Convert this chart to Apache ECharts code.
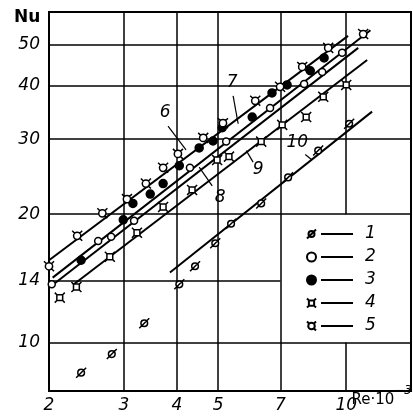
<!DOCTYPE html>
<html>
<head>
<meta charset="utf-8">
<script src="https://cdn.jsdelivr.net/npm/echarts@6/dist/echarts.min.js"></script>
<style>
  html, body { margin: 0; padding: 0; background: #fff; }
  #chart { width: 413px; height: 419px; }
</style>
</head>
<body>
<div id="chart"></div>
<script>
// 坐标轴范围和刻度
const xTicks = [2, 3, 4, 5, 7, 10]
const yTicks = [10, 14, 20, 30, 40, 50]
const xRange = [2, 14.2]
const yRange = [7.7, 59.6]
// 图例所在的格子，里面不画网格线
const legendCellX = [7, 14.2]
const legendCellY = [10, 20]

// 实验点 (Re·10^-3, Nu)
const s1 = [[2.38, 8.5], [2.81, 9.4], [3.35, 11.1], [4.05, 13.7], [4.41, 15.1], [4.92, 17.1],
  [5.36, 19.0], [6.31, 21.2], [7.30, 24.4], [8.59, 28.2], [10.16, 32.6]]
const s2 = [[2.03, 13.7], [2.61, 17.3], [2.80, 17.7], [3.17, 19.3], [4.29, 25.7], [5.22, 29.6],
  [6.62, 35.5], [7.96, 40.4], [8.78, 43.1], [9.78, 47.8]]
const s3 = [[2.38, 15.6], [2.99, 19.4], [3.15, 21.2], [3.46, 22.3], [3.71, 23.6], [4.05, 26.0],
  [4.51, 28.6], [4.86, 29.7], [5.11, 31.9], [6.01, 33.8], [6.69, 38.5], [7.26, 40.2],
  [8.23, 43.4], [8.87, 46.5]]
const s4 = [[2.12, 12.75], [2.32, 13.5], [2.78, 15.9], [3.22, 18.1], [3.71, 20.8], [4.34, 22.8],
  [4.97, 26.8], [5.30, 27.3], [6.31, 29.6], [7.07, 32.4], [8.05, 33.8], [8.83, 37.7], [10.0, 40.2]]
const s5 = [[2.0, 15.1], [2.33, 17.8], [2.67, 20.1], [3.05, 21.7], [3.38, 23.6], [3.71, 25.7],
  [4.02, 27.7], [4.61, 30.2], [5.13, 32.7], [6.11, 36.9], [6.99, 39.8], [7.88, 44.3],
  [9.07, 49.1], [10.96, 52.9]]

// 拟合直线 6..10（两端点）
const fit6 = [[2.0, 15.6], [10.1, 52.4]]
const fit7 = [[2.04, 14.2], [11.4, 54.0]]
const fit8 = [[2.0, 13.45], [10.67, 49.1]]
const fit9 = [[2.28, 13.67], [11.2, 46.0]]
const fit10 = [[3.85, 14.6], [11.5, 34.8]]

// 直线编号及引线
const annoText = ['6', '7', '8', '9', '10']
const annoPos = [[3.75, 34.6], [5.39, 40.8], [5.05, 21.9], [6.21, 25.4], [7.67, 29.4]]
const leaderFrom = [[3.81, 32.2], [5.42, 37.9], [4.84, 23.3], [6.04, 26.5], [8.01, 27.6]]
const leaderTo = [[4.2, 28.3], [5.57, 32.6], [4.51, 25.8], [5.82, 28.2], [8.31, 26.8]]

const FONT = 'DejaVu Sans'
const numStyle = { fontFamily: FONT, fontStyle: 'italic', fontSize: 17, color: '#000' }

// 符号
const symSlash = 'path://M0,12L12,0M10,6A4,4,0,1,1,2,6A4,4,0,1,1,10,6Z'
const symSquare = 'path://M2.5,2.5L9.5,2.5L9.5,9.5L2.5,9.5ZM2.5,2.5L0,0M9.5,2.5L12,0M9.5,9.5L12,12M2.5,9.5L0,12'
const symHorn = 'path://M10,6A4,4,0,1,1,2,6A4,4,0,1,1,10,6ZM3.2,3.2L0.5,0.5M8.8,8.8L11.5,11.5M8.8,3.2L11.5,0.5'

// 网格线：跳过图例格子
function gridLines() {
  let out = []
  xTicks.forEach(x => {
    let inCell = x > legendCellX[0] && x < legendCellX[1]
    if (inCell) {
      out.push([{ coord: [x, yRange[0]], name: String(x), label: { distance: 6 } }, { coord: [x, legendCellY[0]] }])
      out.push([{ coord: [x, legendCellY[1]], name: '' }, { coord: [x, yRange[1]] }])
    } else {
      out.push([{ coord: [x, yRange[0]], name: String(x), label: { distance: 6 } }, { coord: [x, yRange[1]] }])
    }
  })
  yTicks.forEach(y => {
    let inCell = y > legendCellY[0] && y < legendCellY[1]
    let end = inCell ? legendCellX[0] : xRange[1]
    out.push([{ coord: [xRange[0], y], name: String(y), label: { distance: 9 } }, { coord: [end, y] }])
  })
  return out
}

function fitSeries(name, data, withGrid) {
  let s = {
    name: name, type: 'line', data: data, showSymbol: false, silent: true, z: 2, clip: false,
    lineStyle: { color: '#000', width: 2 }, animation: false
  }
  if (withGrid) {
    s.markLine = {
      silent: true, animation: false, symbol: ['none', 'none'],
      lineStyle: { color: '#000', width: 1.5, type: 'solid' },
      label: Object.assign({ show: true, position: 'start', formatter: '{b}' }, numStyle),
      emphasis: { disabled: true },
      data: gridLines()
    }
  }
  return s
}

function pointSeries(name, data, symbol, size, fill) {
  return {
    name: name, type: 'scatter', data: data, symbol: symbol, symbolSize: size, z: 5, clip: false,
    itemStyle: { color: fill, borderColor: '#000', borderWidth: 1.5, opacity: 1 },
    animation: false
  }
}

const chart = echarts.init(document.getElementById('chart'), null, { renderer: 'canvas' })

chart.setOption({
  backgroundColor: '#fff',
  animation: false,
  grid: { left: 49, right: 2, top: 12, bottom: 28, show: true, borderColor: '#000', borderWidth: 2, backgroundColor: 'transparent' },
  xAxis: {
    type: 'log', logBase: 10, min: xRange[0], max: xRange[1],
    axisLine: { show: false }, axisTick: { show: false }, axisLabel: { show: false }, splitLine: { show: false }
  },
  yAxis: {
    type: 'log', logBase: 10, min: yRange[0], max: yRange[1],
    axisLine: { show: false }, axisTick: { show: false }, axisLabel: { show: false }, splitLine: { show: false }
  },
  legend: {
    data: ['1', '2', '3', '4', '5'],
    orient: 'vertical', left: 306, top: 225, padding: 0,
    itemWidth: 9, itemHeight: 9, itemGap: 5, selectedMode: false,
    formatter: n => '{l| }{n|' + n + '}',
    textStyle: {
      lineHeight: 18,
      rich: {
        l: { width: 32, height: 2, backgroundColor: '#000' },
        n: Object.assign({ padding: [0, 0, 0, 12], lineHeight: 18 }, numStyle)
      }
    }
  },
  graphic: [
    { type: 'text', left: 14, top: 9, style: { text: 'Nu', fontFamily: FONT, fontWeight: 'bold', fontSize: 17, fill: '#000' } },
    {
      type: 'text', right: 1, top: 385,
      style: {
        text: '{a|Re·10}{s|−3}',
        rich: {
          a: { fontFamily: FONT, fontSize: 15, fill: '#000', padding: [9, 0, 0, 0] },
          s: { fontFamily: FONT, fontStyle: 'italic', fontSize: 12, fill: '#000', padding: [0, 0, 9, 0] }
        }
      }
    }
  ],
  series: [
    fitSeries('6', fit6, true),
    fitSeries('7', fit7),
    fitSeries('8', fit8),
    fitSeries('9', fit9),
    fitSeries('10', fit10),
    {
      type: 'scatter', symbol: 'circle', symbolSize: 1, z: 6, clip: false, silent: true, animation: false,
      itemStyle: { color: 'rgba(0,0,0,0)' },
      data: annoPos.map((p, i) => ({ value: p, name: annoText[i] })),
      label: Object.assign({ show: true, position: 'inside', formatter: '{b}', textBorderWidth: 0, opacity: 1 }, numStyle),
      markLine: {
        silent: true, animation: false, symbol: ['none', 'none'],
        lineStyle: { color: '#000', width: 1.2, type: 'solid' },
        label: { show: false },
        data: leaderFrom.map((p, i) => [{ coord: p }, { coord: leaderTo[i] }])
      }
    },
    pointSeries('1', s1, symSlash, 10, '#fff'),
    pointSeries('2', s2, 'circle', 7, '#fff'),
    pointSeries('3', s3, 'circle', 8, '#000'),
    pointSeries('4', s4, symSquare, 10, '#fff'),
    pointSeries('5', s5, symHorn, 10, '#fff')
  ]
})
</script>
</body>
</html>
